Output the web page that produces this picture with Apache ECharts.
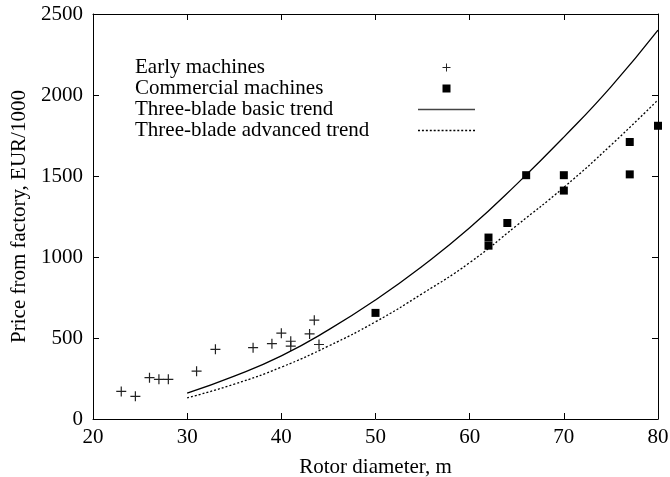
<!DOCTYPE html>
<html>
<head>
<meta charset="utf-8">
<script src="https://cdn.jsdelivr.net/npm/echarts@6/dist/echarts.min.js"></script>
<style>
html, body { margin: 0; padding: 0; background: #fff; }
#chart { width: 670px; height: 477px; }
</style>
</head>
<body>
<div id="chart"></div>
<script>
// early machines (+)
var earlyDiameter = [23, 24.5, 26, 27, 28, 31, 33, 37, 39, 40, 41, 41, 43, 43.5, 44];
var earlyPrice = [170, 140, 255, 245, 245, 295, 430, 440, 465, 530, 480, 450, 525, 610, 460];

// commercial machines (squares)
var commDiameter = [50, 62, 62, 64, 66, 70, 70, 77, 77, 80];
var commPrice = [655, 1120, 1070, 1210, 1505, 1505, 1410, 1710, 1510, 1810];

// trend curves
var trendDiameter = [30, 35, 40, 45, 50, 55, 60, 65, 70, 75, 80];
var basicTrend = [160, 265, 390, 550, 735, 945, 1180, 1450, 1740, 2050, 2400];
var advancedTrend = [130, 215, 320, 450, 600, 775, 965, 1195, 1430, 1690, 1970];

var seriesNames = ['Early machines', 'Commercial machines', 'Three-blade basic trend', 'Three-blade advanced trend'];

var FONT = 'Liberation Serif';
var plusPath = 'path://M4.4,0h1.2v4.4h4.4v1.2h-4.4v4.4h-1.2v-4.4h-4.4v-1.2h4.4z';
var squarePath = 'path://M0,0H8V8H0Z';
var solidIcon = 'path://M0,0H57V1.3H0Z';
// dotted legend icon: short dashes along 57px
var dottedIcon = 'path://';
for (var dx = 0; dx < 57; dx += 4) dottedIcon += 'M' + dx + ',0h2v1.3h-2z';

function pairs(xs, ys) {
	var out = [];
	for (var i = 0; i < xs.length; i++) out.push([xs[i], ys[i]]);
	return out;
}

var tickStyle = { show: true, inside: true, length: 6, lineStyle: { color: '#000', width: 1 } };
var lineStyleAxis = { show: true, onZero: false, lineStyle: { color: '#000', width: 1 } };
var legendText = { fontFamily: FONT, fontSize: 21, lineHeight: 21, color: '#000' };

var chart = echarts.init(document.getElementById('chart'));
var option = {
	animation: false,
	backgroundColor: '#fff',
	grid: { left: 93, right: 12, top: 14, bottom: 58, outerBoundsMode: 'none', containLabel: false },
	legend: [
		{
			// text column
			data: seriesNames,
			orient: 'vertical',
			left: 130,
			top: 57,
			icon: 'none',
			itemWidth: 0,
			itemHeight: 8,
			itemGap: 0,
			selectedMode: false,
			padding: 0,
			textStyle: legendText
		},
		{
			// symbol column
			data: [
				{ name: seriesNames[0], icon: plusPath },
				{ name: seriesNames[1], icon: squarePath },
				{ name: seriesNames[2], icon: solidIcon, itemStyle: { color: '#444' } },
				{ name: seriesNames[3], icon: dottedIcon, itemStyle: { color: '#000' } }
			],
			orient: 'vertical',
			left: 418,
			top: 57,
			itemWidth: 57,
			itemHeight: 8,
			itemGap: 0,
			symbolKeepAspect: true,
			selectedMode: false,
			padding: 0,
			formatter: function () { return ' '; },
			textStyle: legendText
		}
	],
	xAxis: [
		{
			type: 'value', min: 20, max: 80, interval: 10,
			name: 'Rotor diameter, m', nameLocation: 'middle', nameGap: 38,
			nameTextStyle: { fontFamily: FONT, fontSize: 21, color: '#000' },
			axisLine: lineStyleAxis, axisTick: tickStyle,
			axisLabel: { fontFamily: FONT, fontSize: 21, color: '#000', margin: 8 },
			splitLine: { show: false }
		},
		{
			type: 'value', position: 'top', min: 20, max: 80, interval: 10,
			axisLine: lineStyleAxis, axisTick: tickStyle,
			axisLabel: { show: false }, splitLine: { show: false }
		}
	],
	yAxis: [
		{
			type: 'value', min: 0, max: 2500, interval: 500,
			name: 'Price from factory, EUR/1000', nameLocation: 'middle', nameGap: 61,
			nameTextStyle: { fontFamily: FONT, fontSize: 21, color: '#000' },
			axisLine: lineStyleAxis, axisTick: tickStyle,
			axisLabel: {
				fontFamily: FONT, fontSize: 21, color: '#000', margin: 10,
				formatter: function (v) { return String(v); }
			},
			splitLine: { show: false }
		},
		{
			type: 'value', position: 'right', min: 0, max: 2500, interval: 500,
			axisLine: lineStyleAxis, axisTick: tickStyle,
			axisLabel: { show: false }, splitLine: { show: false }
		}
	],
	series: [
		{
			name: seriesNames[0],
			type: 'scatter',
			symbol: plusPath,
			symbolSize: 10,
			itemStyle: { color: '#222', opacity: 1 },
			data: pairs(earlyDiameter, earlyPrice)
		},
		{
			name: seriesNames[1],
			type: 'scatter',
			symbol: 'rect',
			symbolSize: 8,
			itemStyle: { color: '#000', opacity: 1 },
			data: pairs(commDiameter, commPrice)
		},
		{
			name: seriesNames[2],
			type: 'line',
			smooth: true,
			showSymbol: false,
			symbol: 'none',
			lineStyle: { color: '#000', width: 1.3 },
			itemStyle: { color: '#000' },
			data: pairs(trendDiameter, basicTrend)
		},
		{
			name: seriesNames[3],
			type: 'line',
			smooth: true,
			showSymbol: false,
			symbol: 'none',
			lineStyle: { color: '#000', width: 1.3, type: [2, 2] },
			itemStyle: { color: '#000' },
			data: pairs(trendDiameter, advancedTrend)
		}
	]
};
chart.setOption(option);
</script>
</body>
</html>
